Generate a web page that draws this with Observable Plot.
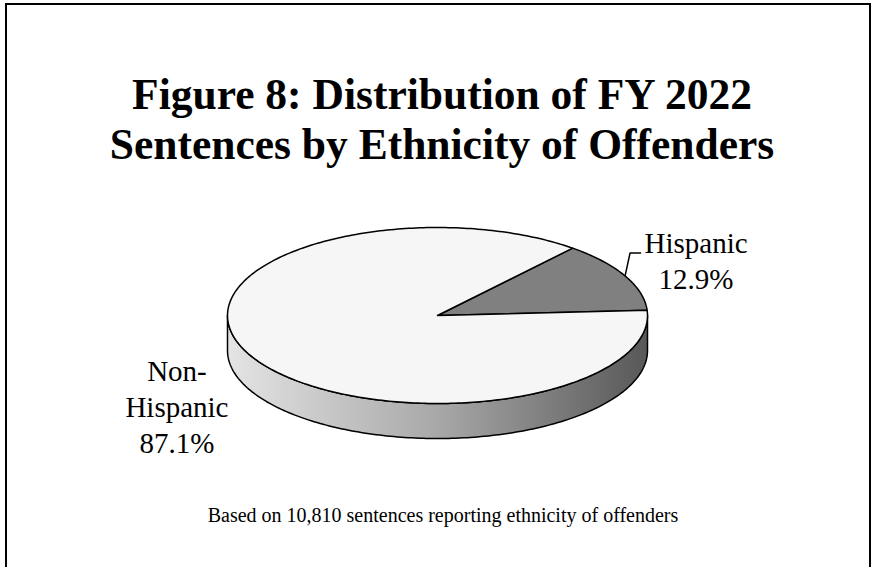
<!DOCTYPE html>
<html>
<head>
<meta charset="utf-8">
<script src="https://cdn.jsdelivr.net/npm/d3@7"></script>
<script src="https://cdn.jsdelivr.net/npm/@observablehq/plot@0.6"></script>
<style>
  body { margin: 0; background: #fff; }
  #wrap { position: relative; width: 875px; height: 567px; overflow: hidden; background: #fff;
          font-family: "Liberation Serif", "Times New Roman", serif; color: #000; }
  #frame { position: absolute; left: 5px; top: 3px; width: 862px; height: 700px; border: 2px solid #000; }
  #title { position: absolute; left: 0; width: 884px; top: 69px; text-align: center;
           font-weight: bold; font-size: 43.5px; line-height: 50px; white-space: nowrap; }
  #caption { position: absolute; left: 0; width: 886px; top: 503px; text-align: center;
             font-size: 20px; line-height: 24px; white-space: nowrap; }
  #chart { position: absolute; left: 0; top: 180px; }
</style>
</head>
<body>
<div id="wrap">
  <div id="frame"></div>
  <div id="chart"></div>
  <div id="title">Figure 8: Distribution of FY 2022<br>Sentences by Ethnicity of Offenders</div>
  <div id="caption">Based on 10,810 sentences reporting ethnicity of offenders</div>
</div>
<script>
// ---- data ----
const categories = ["Hispanic", "Non-Hispanic"];
const shares = [12.9, 87.1];
const labelTexts = ["Hispanic\n12.9%", "Non-\nHispanic\n87.1%"];

// ---- geometry / style ----
const W = 875, H = 300;
const RX = 210, RY = 88, CX = 437, CY = 135, DEPTH = 35;
const START = 3.5; // degrees, counter-clockwise from east
const colors = {"Hispanic": "#808080", "Non-Hispanic": "#f6f6f6"};
const rad = d => d * Math.PI / 180;
const depthU = DEPTH / RY;

function arcPts(a0, a1, key, dy = 0) {
  const n = Math.max(2, Math.ceil(Math.abs(a1 - a0)));
  const pts = [];
  for (let i = 0; i <= n; i++) {
    const a = a0 + (a1 - a0) * i / n;
    pts.push({x: Math.cos(rad(a)), y: Math.sin(rad(a)) + dy, key});
  }
  return pts;
}

// slices from data
let acc = START;
const slices = categories.map((c, i) => {
  const a0 = acc, a1 = acc + shares[i] * 3.6;
  acc = a1;
  return {cat: c, a0, a1, mid: (a0 + a1) / 2, label: labelTexts[i]};
});

const topPolys = slices.map(s => [
  {x: 0, y: 0, key: s.cat}, ...arcPts(s.a0, s.a1, s.cat), {x: 0, y: 0, key: s.cat}
]);

// front side (visible from 180° to 360°)
const side = [...arcPts(180, 360, "side"), ...arcPts(360, 180, "side", -depthU)];
side.push(side[0]);

const midPt = s => ({x: Math.cos(rad(s.mid)), y: Math.sin(rad(s.mid))});
const hisp = slices[0], non = slices[1];
const hp = midPt(hisp);
const leader = [hp, {x: hp.x + 5 / RX, y: hp.y + 23 / RY}, {x: hp.x + 16 / RX, y: hp.y + 23 / RY}];

const marks = [
  Plot.line(side, {x: "x", y: "y", fill: "url(#sideGrad)", stroke: "#000", strokeWidth: 1.5, curve: "linear"}),
  ...topPolys.map((p, i) => Plot.line(p, {x: "x", y: "y", fill: colors[slices[i].cat], stroke: "#000", strokeWidth: 1.5, curve: "linear"})),
  Plot.line(leader, {x: "x", y: "y", stroke: "#000", strokeWidth: 1.5, strokeLinecap: "butt", strokeLinejoin: "miter"}),
  Plot.text([{...hp, t: hisp.label}], {x: "x", y: "y", text: "t", dx: 71, dy: -16.5,
    fontSize: 29, lineHeight: 1.25, fontFamily: "Liberation Serif", fill: "#000"}),
  Plot.text([{...midPt(non), t: non.label}], {x: "x", y: "y", text: "t", dx: -73, dy: 50,
    fontSize: 29, lineHeight: 1.24, fontFamily: "Liberation Serif", fill: "#000"})
];

const svg = Plot.plot({
  width: W, height: H, margin: 0,
  x: {domain: [-CX / RX, (W - CX) / RX], axis: null},
  y: {domain: [-(H - CY) / RY, CY / RY], axis: null},
  style: {background: "transparent", overflow: "visible"},
  marks
});

d3.select(svg).insert("defs", ":first-child").html(`
  <linearGradient id="sideGrad" x1="0" x2="1" y1="0" y2="0">
    <stop offset="0" stop-color="#e4e4e4"/>
    <stop offset="0.5" stop-color="#a8a8a8"/>
    <stop offset="1" stop-color="#585858"/>
  </linearGradient>`);

document.getElementById("chart").appendChild(svg);
</script>
</body>
</html>
